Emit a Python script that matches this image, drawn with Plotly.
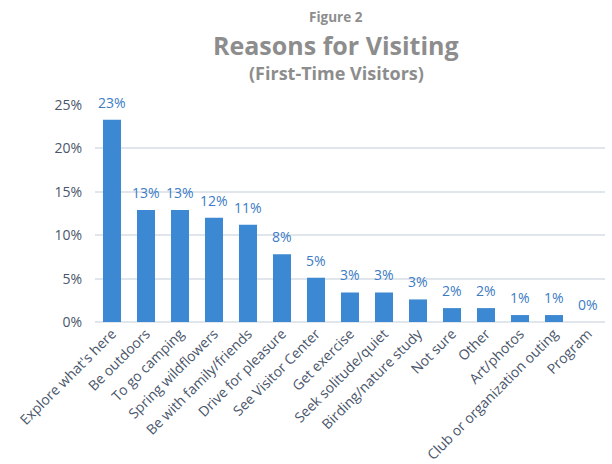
import plotly.graph_objects as go

# Reasons given by first-time visitors (share of respondents, %)
categories = [
    "Explore what's here", "Be outdoors", "To go camping", "Spring wildflowers",
    "Be with family/friends", "Drive for pleasure", "See Visitor Center",
    "Get exercise", "Seek solitude/quiet", "Birding/nature study", "Not sure",
    "Other", "Art/photos", "Club or organization outing", "Program",
]
shares = [23.3, 12.9, 12.9, 12.0, 11.2, 7.8, 5.1, 3.4, 3.4, 2.6, 1.6, 1.6, 0.8, 0.8, 0.0]

y_ticks = [0, 5, 10, 15, 20, 25]
y_tick_labels = [f"{t}%" for t in y_ticks]

FONT = "Open Sans"
AXIS_TEXT = "#4a566b"
LABEL_BLUE = "#3b7cc4"
BAR_BLUE = "#3c88d2"
GRID = "#e1e6ec"
TITLE_GRAY = "#8d8d8d"

fig = go.Figure(
    go.Bar(
        x=categories,
        y=shares,
        marker=dict(color=BAR_BLUE, line=dict(width=0)),
        hoverinfo="x+y",
    )
)

# value labels above each bar
for cat, val in zip(categories, shares):
    fig.add_annotation(
        x=cat, y=val, text=f"{round(val):.0f}%",
        showarrow=False, yanchor="bottom", yshift=6,
        font=dict(family=FONT, size=14, color=LABEL_BLUE),
    )

# title block
titles = [
    ("Figure 2", 13.5, 17),
    ("Reasons for Visiting", 25, 45),
    ("(First-Time Visitors)", 18, 73),
]
for text, size, ypix in titles:
    fig.add_annotation(
        text=f"<b>{text}</b>", xref="paper", yref="paper",
        x=(336 - 95) / 510, y=1 + (105 - ypix) / 217,
        xanchor="center", yanchor="middle", showarrow=False,
        font=dict(family=FONT, size=size, color=TITLE_GRAY),
    )

fig.update_layout(
    width=612, height=464,
    margin=dict(l=95, r=7, t=105, b=142),
    paper_bgcolor="white", plot_bgcolor="white",
    bargap=0.47, showlegend=False,
    font=dict(family=FONT, size=14, color=AXIS_TEXT),
)
fig.update_xaxes(
    tickangle=-45, showgrid=False, showline=False, zeroline=False,
    automargin=False,
    tickfont=dict(family=FONT, size=14, color=AXIS_TEXT),
)
fig.update_yaxes(
    range=[0, 25], tickvals=y_ticks, ticktext=y_tick_labels,
    showgrid=True, gridcolor=GRID, gridwidth=1.5,
    zeroline=True, zerolinecolor=GRID, zerolinewidth=2,
    showline=False, ticks="", ticklabelstandoff=12, automargin=False,
    tickfont=dict(family=FONT, size=14, color=AXIS_TEXT),
)

fig.write_html("out.html")
